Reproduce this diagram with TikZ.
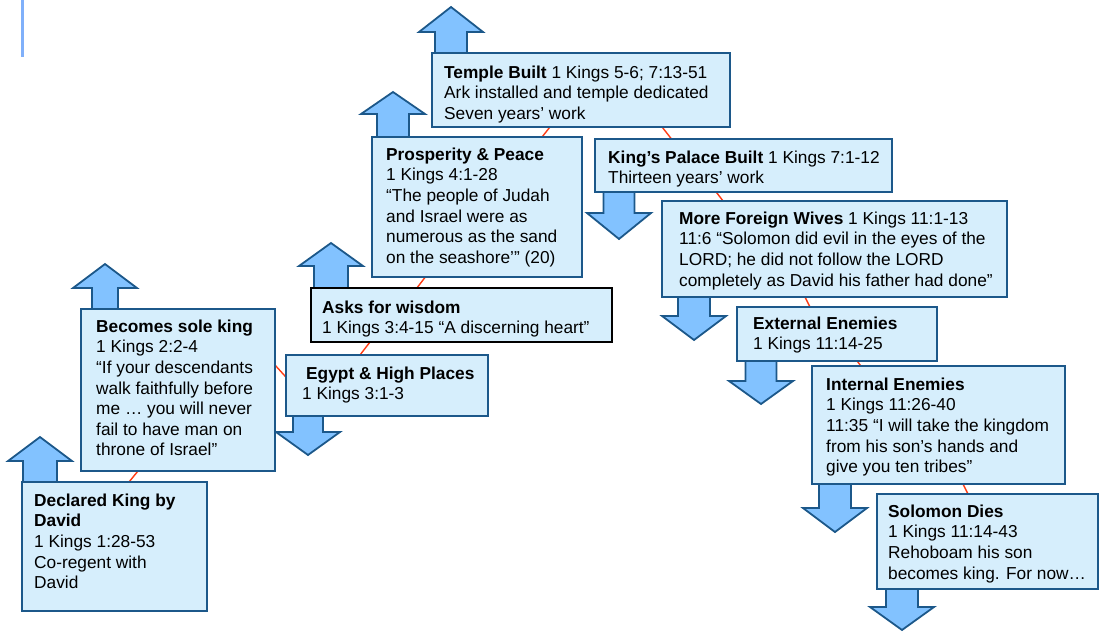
\documentclass[tikz,border=0pt]{standalone}
\usepackage{fontspec}
\setmainfont{Liberation Sans}
\usetikzlibrary{backgrounds,calc}
\definecolor{boxfill}{RGB}{214,238,252}
\definecolor{boxline}{RGB}{28,88,138}
\definecolor{arrfill}{RGB}{130,194,255}
\definecolor{redln}{RGB}{255,60,20}
\definecolor{barblue}{RGB}{128,176,250}
\newcommand\UpBlk[5]{\draw[blk] (#1-#4,#5) -- (#1-#4,#3) -- (#1-32,#3) -- (#1,#2) -- (#1+32,#3) -- (#1+#4,#3) -- (#1+#4,#5) -- cycle;}
\newcommand\DnBlk[5]{\draw[blk] (#1-#4,#2) -- (#1-#4,#3) -- (#1-32,#3) -- (#1,#5) -- (#1+32,#3) -- (#1+#4,#3) -- (#1+#4,#2) -- cycle;}
\begin{document}
\begin{tikzpicture}[x=1pt,y=-1pt,
 box/.style={draw=boxline, line width=2pt, fill=boxfill, anchor=north west, inner sep=0pt, outer sep=0pt},
 blackbox/.style={box, draw=black, line width=2.4pt},
 txt/.style={anchor=north west, inner sep=0pt, align=left, font=\fontsize{17.3}{20.6}\selectfont},
 blk/.style={draw=boxline, line width=1.8pt, fill=arrfill, line join=miter},
 redline/.style={draw=redln, line width=1.4pt}]
\useasboundingbox (0,0) rectangle (1104,632);

% top-left bar
\draw[barblue, line width=3pt] (22.5,0) -- (22.5,57);

% boxes
\node[box, minimum width=185, minimum height=129] (decl) at (22,482) {};
\node[box, minimum width=194, minimum height=162] (sole) at (81,309) {};
\node[box, minimum width=202, minimum height=61] (egypt) at (286,355) {};
\node[blackbox, minimum width=301, minimum height=54] (wisdom) at (311,288) {};
\node[box, minimum width=210, minimum height=140] (prosp) at (372,137) {};
\node[box, minimum width=298, minimum height=74] (temple) at (432,53) {};
\node[box, minimum width=297, minimum height=53] (palace) at (595,139) {};
\node[box, minimum width=345, minimum height=96] (wives) at (662,201) {};
\node[box, minimum width=200, minimum height=54] (ext) at (737,307) {};
\node[box, minimum width=253, minimum height=118] (int) at (812,366) {};
\node[box, minimum width=221, minimum height=95] (dies) at (877,494) {};

% texts
\node[txt] (tdecl) at (34,493.5) {\textbf{Declared King by}\\\textbf{David}\\1 Kings 1:28-53\\Co-regent with\\David};
\node[txt] (tsole) at (96,319.5) {\textbf{Becomes sole king}\\1 Kings 2:2-4\\“If your descendants\\walk faithfully before\\me … you will never\\fail to have man on\\throne of Israel”};
\node[txt] (tegypt) at (302,366.5) {\hspace*{4pt}\textbf{Egypt \& High Places}\\1 Kings 3:1-3};
\node[txt] (twisdom) at (322,300.5) {\textbf{Asks for wisdom}\\1 Kings 3:4-15 “A discerning heart”};
\node[txt] (tprosp) at (386,147.5) {\textbf{Prosperity \& Peace}\\1 Kings 4:1-28\\“The people of Judah\\and Israel were as\\numerous as the sand\\on the seashore’” (20)};
\node[txt] (ttemple) at (444,65.5) {\textbf{Temple Built} 1 Kings 5-6; 7:13-51\\Ark installed and temple dedicated\\Seven years’ work};
\node[txt] (tpalace) at (608,150.5) {\textbf{King’s Palace Built} 1 Kings 7:1-12\\Thirteen years’ work};
\node[txt] (twives) at (679,211.5) {\textbf{More Foreign Wives} 1 Kings 11:1-13\\11:6 “Solomon did evil in the eyes of the\\LORD; he did not follow the LORD\\completely as David his father had done”};
\node[txt] (text) at (753,316.5) {\textbf{External Enemies}\\1 Kings 11:14-25};
\node[txt] (tint) at (826,377.5) {\textbf{Internal Enemies}\\1 Kings 11:26-40\\11:35 “I will take the kingdom\\from his son’s hands and\\give you ten tribes”};
\node[txt] (tdies) at (888,504.5) {\textbf{Solomon Dies}\\1 Kings 11:14-43\\Rehoboam his son\\becomes king. For now…};

\begin{pgfonlayer}{background}
% connector points
\coordinate (c1a) at (120,493); \coordinate (c1b) at (147,460);
\coordinate (c2a) at (265,354); \coordinate (c2b) at (294,386);
\coordinate (c3a) at (353,364); \coordinate (c3b) at (377,333);
\coordinate (c4a) at (410,297); \coordinate (c4b) at (433,267);
\coordinate (c5a) at (535,146); \coordinate (c5b) at (557,118);
\coordinate (c6a) at (655,118); \coordinate (c6b) at (677,146);
\coordinate (c7a) at (710,184); \coordinate (c7b) at (730,210);
\coordinate (c8a) at (800,287); \coordinate (c8b) at (815,317);
\coordinate (c9a) at (852,354); \coordinate (c9b) at (866,373);
\coordinate (c10a) at (958,474); \coordinate (c10b) at (973,504);
\foreach \i in {1,...,10} {\draw[redline] (c\i a) -- (c\i b);}

% up arrows: cx, tip, headbase, shaft half, bottom
\UpBlk{40}{437}{461}{17}{488}
\UpBlk{105}{264}{288}{13}{315}
\UpBlk{331}{243}{266}{17}{294}
\UpBlk{393}{92}{114}{16}{143}
\UpBlk{451}{7}{32}{16}{59}
% down arrows: cx, top, headbase, shaft half, tip
\DnBlk{308}{410}{432}{15}{455}
\DnBlk{619}{186}{213}{15.5}{239}
\DnBlk{694}{291}{316}{16}{340}
\DnBlk{761}{355}{381}{15.5}{404}
\DnBlk{835}{478}{508}{16}{532}
\DnBlk{902}{583}{607}{16}{630}
\end{pgfonlayer}
\end{tikzpicture}
\end{document}
